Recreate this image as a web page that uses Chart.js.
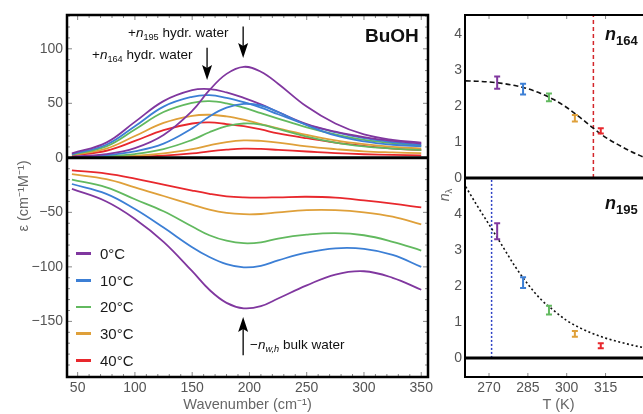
<!DOCTYPE html>
<html>
<head>
<meta charset="utf-8">
<title>BuOH hydration water</title>
<script src="https://cdn.jsdelivr.net/npm/chart.js@4.4.1/dist/chart.umd.min.js"></script>
<style>
  html, body { margin: 0; padding: 0; background: #fff; }
  body { position: relative; width: 643px; height: 414px; overflow: hidden; font-family: "Liberation Sans", Arial, sans-serif; }
  canvas { position: absolute; }
  #chart-spectra { left: 0; top: 0; }
  #chart-n164 { left: 400px; top: 0; }
  #chart-n195 { left: 400px; top: 166px; }
  .label { position: absolute; white-space: nowrap; line-height: 1; color: #111; }
  .label sub { font-size: 0.68em; vertical-align: -0.3em; line-height: 0; }
  .tag { font-weight: bold; font-size: 18px; }
  .tag i { font-weight: bold; }
  .tag sub { font-size: 13px; vertical-align: -4.5px; }
  .legend-line { position: absolute; left: 76px; width: 15px; height: 2.5px; }
  #n-lambda { left: 432px; top: 188px; width: 24px; height: 14px; text-align: center; font-size: 14px; color: #666; transform: rotate(-90deg); }
</style>
</head>
<body>
<canvas id="chart-spectra" width="440" height="414"></canvas>
<canvas id="chart-n164" width="260" height="192"></canvas>
<canvas id="chart-n195" width="260" height="248"></canvas>

<div class="label" style="left:128px;top:26px;font-size:13.5px;">+<i>n</i><sub>195</sub> hydr. water</div>
<div class="label" style="left:92px;top:48px;font-size:13.5px;">+<i>n</i><sub>164</sub> hydr. water</div>
<div class="label" style="left:365px;top:26px;font-size:19px;font-weight:bold;">BuOH</div>
<div class="label" style="left:250px;top:337.5px;font-size:13.5px;">&minus;<i>n</i><sub><i>w,h</i></sub> bulk water</div>
<div class="label tag" style="left:605px;top:24.8px;"><i>n</i><sub>164</sub></div>
<div class="label tag" style="left:605px;top:193.5px;"><i>n</i><sub>195</sub></div>
<div class="label" id="n-lambda"><i>n</i><sub>λ</sub></div>
<div id="legend"></div>

<script>
'use strict';

Chart.defaults.font.family = '"Liberation Sans", Arial, sans-serif';

// temperatures and their colours
const TEMPS = ['0°C', '10°C', '20°C', '30°C', '40°C'];
const TEMPS_K = [273.15, 283.15, 293.15, 303.15, 313.15];
const COLORS = ['#80379f', '#3c7fd5', '#62b95f', '#dfa03a', '#e8282d'];

// left panel: spectra vs wavenumber (cm-1)
const WAVENUMBER = [45, 75, 100, 125, 150, 165, 180, 195, 210, 225, 250, 275, 300, 325, 350];
const HYDR_164 = [
  [4, 14, 33, 52, 62, 63, 60, 55, 49, 42, 31, 24, 19, 15.5, 13],
  [3.5, 12, 29, 47, 56, 57.5, 55, 51, 46, 40, 30.5, 23.5, 18, 14.5, 12],
  [3, 10.5, 26, 42, 50.5, 52, 50, 46, 41, 36, 28, 21.5, 16.5, 13.5, 11],
  [2.5, 8.5, 20, 32, 38.5, 39.5, 38, 35, 31, 27, 21, 16, 12.5, 10, 8.5],
  [2, 6.5, 15.5, 25.5, 31.5, 32.5, 31, 29, 26, 22.5, 18, 14, 11, 8.5, 7],
];
const HYDR_195 = [
  [1, 3.5, 9, 21, 43, 62, 77, 83.5, 79, 68, 47, 31.5, 21.5, 16.5, 14],
  [0.8, 2.5, 6, 13, 27, 38, 46, 49.5, 48, 42, 30, 20.5, 15, 12, 10.5],
  [0.5, 1.5, 3.5, 8, 16.5, 23.5, 29, 31.5, 30.5, 26.5, 19.5, 14, 10.5, 8.5, 7],
  [0.3, 0.8, 2, 4, 8, 11.5, 14.5, 16, 15.5, 14, 10.5, 8, 6, 5, 4.3],
  [0.2, 0.5, 1, 2, 4, 6, 7.5, 8.5, 8.2, 7.3, 5.8, 4.3, 3.3, 2.7, 2.3],
];
const BULK = [
  [-28.5, -40, -56, -77, -104, -121, -133, -138, -136, -129, -117, -107, -104, -110, -121],
  [-24, -33, -47, -64, -82, -91, -97.5, -100.5, -99, -94, -87, -83, -83.5, -89, -100],
  [-20, -27, -38, -49, -63, -71, -76, -78.3, -77.5, -74, -70.5, -69, -71, -77, -85],
  [-15, -19.5, -27, -35, -43, -47.5, -50.5, -51.7, -51.5, -50, -48, -48, -50, -54, -61],
  [-11.5, -14.5, -19, -24.5, -30, -33, -35.3, -36.3, -36.5, -36.2, -35.7, -36.5, -39, -42, -45.5],
];
const WN_TICKS = [50, 100, 150, 200, 250, 300, 350];
const EPS_TICKS = [-150, -100, -50, 0, 50, 100];

// right panels: n vs temperature (K)
const T_TICKS = [270, 285, 300, 315];
const N_TICKS = [0, 1, 2, 3, 4];
const N164 = [2.65, 2.47, 2.24, 1.66, 1.31];
const N164_ERR = [0.17, 0.15, 0.11, 0.09, 0.07];
const N195 = [3.52, 2.09, 1.33, 0.67, 0.34];
const N195_ERR = [0.22, 0.15, 0.12, 0.08, 0.07];
const FIT_T = [261, 265, 270, 275, 280, 285, 290, 295, 300, 305, 310, 315, 320, 325, 330];
const FIT_164 = [2.70, 2.69, 2.67, 2.63, 2.57, 2.48, 2.35, 2.18, 1.96, 1.69, 1.40, 1.13, 0.92, 0.73, 0.57];
const FIT_195 = [4.76, 4.28, 3.71, 3.13, 2.55, 2.05, 1.63, 1.32, 1.04, 0.84, 0.68, 0.55, 0.45, 0.36, 0.28];
const T_CROSS_164 = 310.3;
const T_CROSS_195 = 271.0;

const T_MIN = 260.73, T_MAX = 332.93;
const N164_MAX = 4.53;
const N195_MIN = -0.53, N195_MAX = 5.0;

const TICK_COLOR = '#555';
const TITLE_COLOR = '#666';

function toPoints(xs, ys) {
  return xs.map((x, i) => ({ x, y: ys[i] }));
}

function minus(v) {
  return v < 0 ? '\u2212' + Math.abs(v) : String(v);
}

function fixedTicks(values) {
  return (scale) => { scale.ticks = values.map((value) => ({ value })); };
}

// black frame, tick marks and the thick zero line
const framePlugin = {
  id: 'frame',
  afterDatasetsDraw(chart, args, opts) {
    const { ctx, chartArea: a, scales: { x, y } } = chart;
    ctx.save();
    ctx.strokeStyle = '#888';
    ctx.lineWidth = 1;
    const tick = (x1, y1, x2, y2) => { ctx.beginPath(); ctx.moveTo(x1, y1); ctx.lineTo(x2, y2); ctx.stroke(); };
    for (const t of opts.xTicks || []) {
      const px = x.getPixelForValue(t.v);
      if (opts.bottom) tick(px, a.bottom, px, a.bottom - t.len);
      if (opts.top) tick(px, a.top, px, a.top + t.len);
    }
    for (const t of opts.yTicks || []) {
      const py = y.getPixelForValue(t.v);
      tick(a.left, py, a.left + t.len, py);
      tick(a.right, py, a.right - t.len, py);
    }
    ctx.strokeStyle = '#000';
    ctx.lineWidth = opts.zeroWidth;
    const y0 = y.getPixelForValue(0);
    tick(a.left, y0, a.right, y0);
    ctx.lineWidth = opts.width;
    ctx.strokeRect(a.left, a.top, a.right - a.left, a.bottom - a.top);
    ctx.restore();
  }
};

const arrowPlugin = {
  id: 'arrows',
  afterDatasetsDraw(chart, args, opts) {
    const { ctx, scales: { x, y } } = chart;
    ctx.save();
    ctx.strokeStyle = '#000';
    ctx.fillStyle = '#000';
    ctx.lineWidth = 1.3;
    for (const a of opts.items) {
      const px = x.getPixelForValue(a.x);
      const y1 = y.getPixelForValue(a.from);
      const y2 = y.getPixelForValue(a.to);
      const dir = Math.sign(y2 - y1);
      ctx.beginPath();
      ctx.moveTo(px, y1);
      ctx.lineTo(px, y2 - dir * 12);
      ctx.stroke();
      ctx.beginPath();
      ctx.moveTo(px, y2);
      ctx.lineTo(px - 5, y2 - dir * 15);
      ctx.lineTo(px, y2 - dir * 12);
      ctx.lineTo(px + 5, y2 - dir * 15);
      ctx.closePath();
      ctx.fill();
    }
    ctx.restore();
  }
};

const errorBarPlugin = {
  id: 'errorBars',
  afterDatasetsDraw(chart, args, opts) {
    const { ctx, scales: { x, y } } = chart;
    ctx.save();
    ctx.lineWidth = 2;
    opts.values.forEach((v, i) => {
      const px = x.getPixelForValue(opts.temps[i]);
      const hi = y.getPixelForValue(v + opts.errors[i]);
      const lo = y.getPixelForValue(v - opts.errors[i]);
      ctx.strokeStyle = COLORS[i];
      ctx.beginPath();
      ctx.moveTo(px, hi); ctx.lineTo(px, lo);
      ctx.moveTo(px - 3, hi); ctx.lineTo(px + 3, hi);
      ctx.moveTo(px - 3, lo); ctx.lineTo(px + 3, lo);
      ctx.stroke();
    });
    ctx.restore();
  }
};

function spectrumSet(values, i) {
  return {
    data: toPoints(WAVENUMBER, values),
    borderColor: COLORS[i],
    borderWidth: 1.8,
    pointRadius: 0,
    tension: 0.4,
  };
}

const minorWn = [];
for (let v = 50; v <= 350; v += 10) minorWn.push({ v, len: v % 50 === 0 ? 5 : 3 });
const minorEps = [];
for (let v = -190; v <= 130; v += 10) minorEps.push({ v, len: v % 50 === 0 ? 5 : 3 });

new Chart(document.getElementById('chart-spectra'), {
  type: 'line',
  data: {
    datasets: [
      ...HYDR_195.map(spectrumSet),
      ...HYDR_164.map(spectrumSet),
      ...BULK.map(spectrumSet),
    ],
  },
  options: {
    responsive: false,
    animation: false,
    layout: { padding: { top: 15, right: 12, left: 0, bottom: 0 } },
    plugins: {
      legend: { display: false },
      tooltip: { enabled: false },
      frame: { width: 2.5, zeroWidth: 3, xTicks: minorWn, yTicks: minorEps, top: true, bottom: true },
      arrows: {
        items: [
          { x: 163, from: 101, to: 71.5 },
          { x: 194.5, from: 120.5, to: 91.5 },
          { x: 194.5, from: -181, to: -146 },
        ],
      },
    },
    scales: {
      x: {
        type: 'linear', min: 40.7, max: 355.9,
        afterBuildTicks: fixedTicks(WN_TICKS),
        afterFit: (s) => { s.height = 37; },
        grid: { display: false, drawTicks: false },
        border: { display: false },
        ticks: { color: TICK_COLOR, font: { size: 14 }, padding: 3, maxRotation: 0, autoSkip: false },
        title: { display: true, text: 'Wavenumber (cm\u207B\u00B9)', color: TITLE_COLOR, font: { size: 14.5 }, padding: 0 },
      },
      y: {
        min: -201, max: 131,
        afterBuildTicks: fixedTicks(EPS_TICKS),
        afterFit: (s) => { s.width = 67; },
        grid: { display: false, drawTicks: false },
        border: { display: false },
        ticks: { color: TICK_COLOR, font: { size: 14 }, padding: 4, callback: minus },
        title: { display: true, text: '\u03B5 (cm\u207B\u00B9M\u207B\u00B9)', color: TITLE_COLOR, font: { size: 14.5 }, padding: { top: 15 } },
      },
    },
  },
  plugins: [framePlugin, arrowPlugin],
});

const tMajor = T_TICKS.map((v) => ({ v, len: 4 }));

new Chart(document.getElementById('chart-n164'), {
  type: 'line',
  data: {
    datasets: [
      {
        data: toPoints(FIT_T, FIT_164),
        borderColor: '#111', borderWidth: 1.6, borderDash: [5, 3],
        pointRadius: 0, cubicInterpolationMode: 'monotone',
      },
      {
        data: [{ x: T_CROSS_164, y: 0 }, { x: T_CROSS_164, y: N164_MAX }],
        borderColor: '#d3262b', borderWidth: 1.5, borderDash: [4, 3], pointRadius: 0,
      },
    ],
  },
  options: {
    responsive: false,
    animation: false,
    layout: { padding: { top: 15, right: 8, left: 0, bottom: 14 } },
    plugins: {
      legend: { display: false },
      tooltip: { enabled: false },
      frame: { width: 2, zeroWidth: 3, xTicks: tMajor, top: true },
      errorBars: { temps: TEMPS_K, values: N164, errors: N164_ERR },
    },
    scales: {
      x: { type: 'linear', min: T_MIN, max: T_MAX, display: false },
      y: {
        min: 0, max: N164_MAX,
        afterBuildTicks: fixedTicks(N_TICKS),
        afterFit: (s) => { s.width = 65; },
        grid: { display: false, drawTicks: false },
        border: { display: false },
        ticks: { color: TICK_COLOR, font: { size: 14 }, padding: 3 },
      },
    },
  },
  plugins: [framePlugin, errorBarPlugin],
});

new Chart(document.getElementById('chart-n195'), {
  type: 'line',
  data: {
    datasets: [
      {
        data: toPoints(FIT_T, FIT_195),
        borderColor: '#111', borderWidth: 1.6, borderDash: [2, 2.5],
        pointRadius: 0, cubicInterpolationMode: 'monotone',
      },
      {
        data: [{ x: T_CROSS_195, y: 0 }, { x: T_CROSS_195, y: N195_MAX }],
        borderColor: '#2b3fc4', borderWidth: 1.5, borderDash: [2, 2], pointRadius: 0,
      },
    ],
  },
  options: {
    responsive: false,
    animation: false,
    layout: { padding: { top: 12, right: 8, left: 0, bottom: 0 } },
    plugins: {
      legend: { display: false },
      tooltip: { enabled: false },
      frame: { width: 2, zeroWidth: 3, xTicks: tMajor, bottom: true },
      errorBars: { temps: TEMPS_K, values: N195, errors: N195_ERR },
    },
    scales: {
      x: {
        type: 'linear', min: T_MIN, max: T_MAX,
        afterBuildTicks: fixedTicks(T_TICKS),
        afterFit: (s) => { s.height = 37; },
        grid: { display: false, drawTicks: false },
        border: { display: false },
        ticks: { color: TICK_COLOR, font: { size: 14 }, padding: 3, maxRotation: 0, autoSkip: false },
        title: { display: true, text: 'T (K)', color: TITLE_COLOR, font: { size: 14.5 }, padding: 0 },
      },
      y: {
        min: N195_MIN, max: N195_MAX,
        afterBuildTicks: fixedTicks(N_TICKS),
        afterFit: (s) => { s.width = 65; },
        grid: { display: false, drawTicks: false },
        border: { display: false },
        ticks: { color: TICK_COLOR, font: { size: 14 }, padding: 3 },
      },
    },
  },
  plugins: [framePlugin, errorBarPlugin],
});

// legend inside the left panel
const legend = document.getElementById('legend');
TEMPS.forEach((label, i) => {
  const baseline = 258.3 + i * 26.7;
  const line = document.createElement('div');
  line.className = 'legend-line';
  line.style.top = `${baseline - 6}px`;
  line.style.background = COLORS[i];
  const text = document.createElement('div');
  text.className = 'label';
  text.style.cssText = `left:100px;top:${baseline - 12.5}px;font-size:15px;color:#1a1a1a;`;
  text.textContent = label;
  legend.appendChild(line);
  legend.appendChild(text);
});
</script>
</body>
</html>
